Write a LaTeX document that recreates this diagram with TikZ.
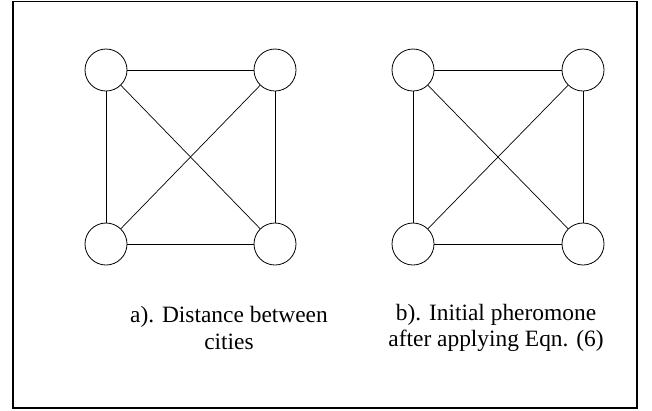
\documentclass[tikz,border=0pt]{standalone}
\usepackage{fontspec}
\setmainfont{Liberation Serif}
\usepackage{tikz}
\usetikzlibrary{positioning}
\tikzset{
  city/.style={circle,draw,line width=0.8bp,minimum size=42bp,inner sep=0pt},
  ed/.style={line width=0.7bp},
  lbl/.style={align=center,inner sep=0pt,font=\fontsize{23.5}{26.5}\selectfont}
}
\begin{document}
\begin{tikzpicture}[x=1bp,y=-1bp]
\useasboundingbox (0,0) rectangle (652,410);
\draw[line width=1.5bp] (13,1.5) rectangle (637,408);
\foreach \g/\xl/\xr in {a/106/275,b/413/583}{
  \node[city] (\g1) at (\xl,70) {};
  \node[city] (\g2) at (\xr,70) {};
  \node[city] (\g3) at (\xl,244) {};
  \node[city] (\g4) at (\xr,244) {};
  \foreach \u/\v in {1/2,1/3,1/4,2/3,2/4,3/4}{\draw[ed] (\g\u)--(\g\v);}
}
\node[lbl] (capa) at (229,328) {a). Distance between\\cities};
\node[lbl] (capb) at (496,328) {b). Initial pheromone\\after applying Eqn. (6)};
\end{tikzpicture}
\end{document}
